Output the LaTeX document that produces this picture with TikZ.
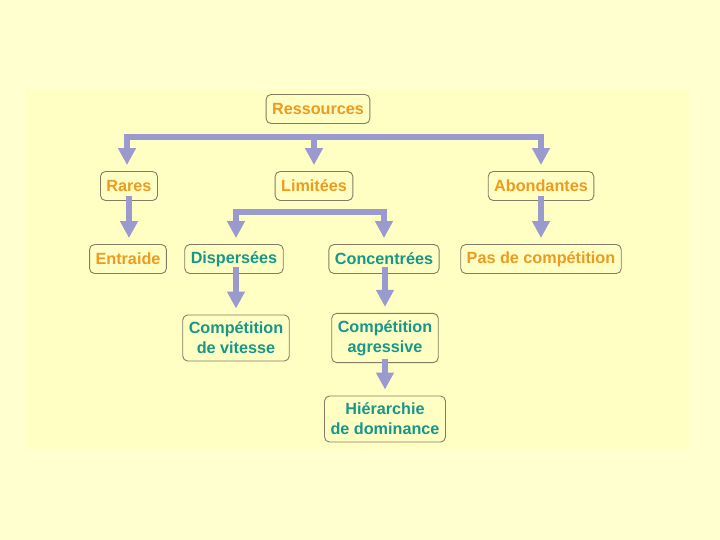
\documentclass[tikz,border=0pt]{standalone}
\usepackage{fontspec}
\setmainfont{Liberation Sans}
\usetikzlibrary{arrows.meta}
\definecolor{outerbg}{HTML}{FFFFD0}
\definecolor{innerbg}{HTML}{FFFFC4}
\definecolor{orangetxt}{HTML}{EE9A22}
\definecolor{tealtxt}{HTML}{17978A}
\definecolor{flowcol}{HTML}{9A9ACE}
\definecolor{boxline}{HTML}{857C66}
\tikzset{
  box/.style={draw=boxline, line width=0.9pt, rounded corners=5pt, fill=innerbg,
    font=\fontsize{16.2}{20}\selectfont\bfseries, align=center,
    inner xsep=6pt, inner ysep=5pt, minimum height=29pt},
  orng/.style={box, text=orangetxt},
  teal/.style={box, text=tealtxt},
  two/.style={inner ysep=7pt},
  flow/.style={draw=flowcol, line width=6pt},
  arr/.style={flow, -{Triangle[width=17pt,length=17pt]}, shorten >=6pt}
}
\begin{document}
\begin{tikzpicture}[x=1pt,y=-1pt]
\useasboundingbox (0,0) rectangle (720,540);
\fill[outerbg] (0,0) rectangle (720,540);
\fill[innerbg] (26,89) rectangle (690,450);

\node[orng] (res) at (318,109) {Ressources};
\node[orng] (rares) at (129,186) {Rares};
\node[orng] (lim) at (314,186) {Limitées};
\node[orng] (abond) at (541,186) {Abondantes};
\node[orng] (entr) at (128,259) {Entraide};
\node[teal] (disp) at (234,259) {Dispersées};
\node[teal] (conc) at (384,259) {Concentrées};
\node[orng] (pas) at (541,259) {Pas de compétition};
\node[teal,two] (vit) at (236,338) {Compétition\\de vitesse};
\node[teal,two] (agr) at (385,338) {Compétition\\agressive};
\node[teal,two] (hier) at (385,419) {Hiérarchie\\de dominance};

\coordinate (bar1) at (318,137);
\coordinate (bar2) at (310,212);

\draw[arr] (bar1) -| ([xshift=-2pt]rares.north);
\draw[arr] (bar1) -| (abond.north);
\draw[arr] (bar1 -| lim.north) -- (lim.north);
\draw[arr] (bar2) -| ([xshift=2pt]disp.north);
\draw[arr] (bar2) -| (conc.north);

\draw[arr] ([yshift=5pt]rares.south) -- (rares.south |- entr.north);
\draw[arr] ([yshift=5pt]abond.south) -- (pas.north);
\draw[arr] ([xshift=2pt,yshift=7pt]disp.south) -- (vit.north);
\draw[arr] ([xshift=1pt,yshift=7pt]conc.south) -- (agr.north);
\draw[arr] ([yshift=4pt]agr.south) -- (hier.north);
\end{tikzpicture}
\end{document}
